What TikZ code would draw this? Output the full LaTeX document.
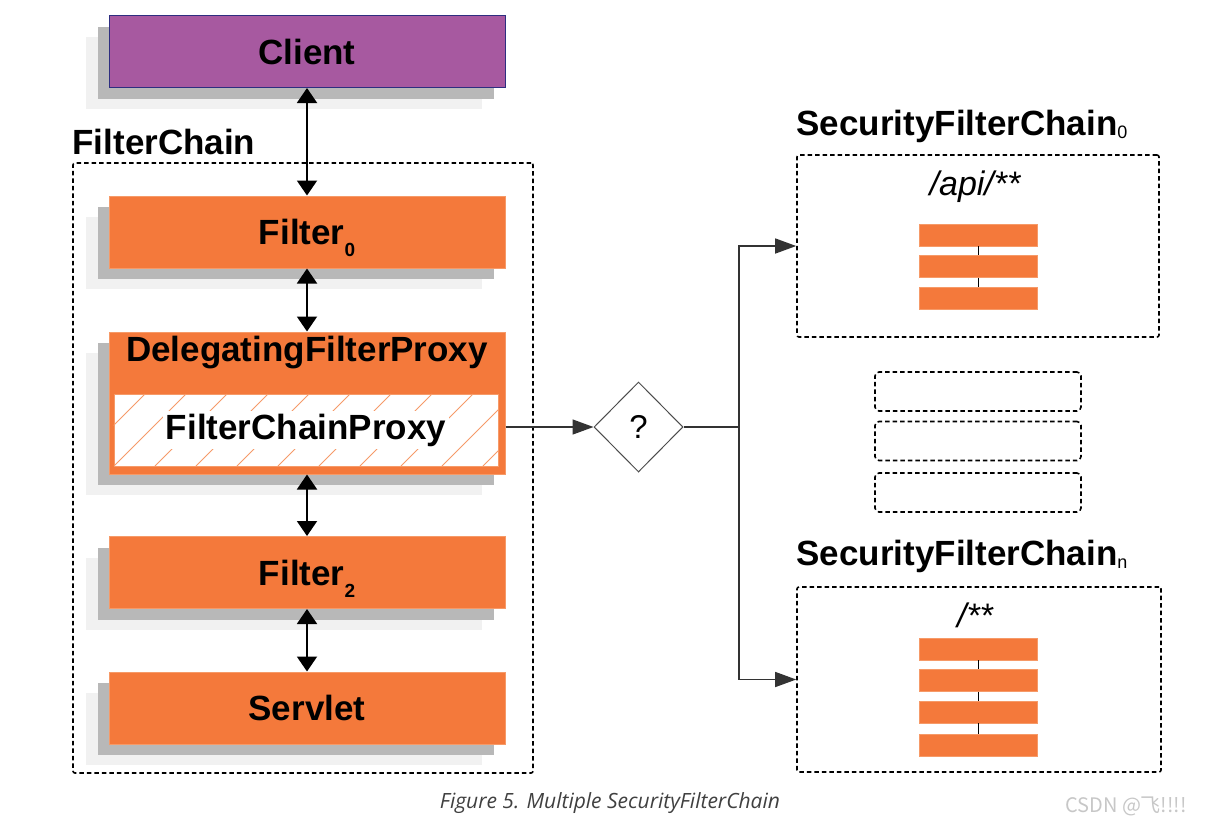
\documentclass[tikz,border=0pt]{standalone}
\usepackage{fontspec}
\setmainfont{Liberation Sans}
\newfontfamily\capfont{Open Sans}
\newfontfamily\cjk{Noto Sans CJK SC}
\usetikzlibrary{arrows.meta,shapes.geometric,shadows}

\definecolor{springorange}{HTML}{F4793B}
\definecolor{orangeedge}{HTML}{F69A68}
\definecolor{clientpurple}{HTML}{A759A0}
\definecolor{clientedge}{HTML}{2E2E80}
\definecolor{shadowdark}{HTML}{B8B8B8}
\definecolor{shadowlight}{HTML}{F1F1F1}

\newcommand{\lowidx}[1]{\raisebox{-12pt}{\fontsize{19}{20}\selectfont #1}}
\newcommand{\smallidx}[1]{\raisebox{-3pt}{\fontsize{18}{19}\selectfont\mdseries #1}}

\tikzset{
	bigfont/.style={font=\fontsize{35}{40}\selectfont\bfseries},
	box/.style={bigfont, minimum width=396pt, minimum height=72pt, inner sep=0pt, text height=25pt, text depth=0pt,
		general shadow={fill=shadowlight, shadow xshift=-23pt, shadow yshift=-21pt},
		general shadow={fill=shadowdark, shadow xshift=-11pt, shadow yshift=-11pt}},
	filterbox/.style={box, fill=springorange, draw=orangeedge, line width=1pt},
	clientbox/.style={box, fill=clientpurple, draw=clientedge, line width=1pt},
	dashbox/.style={draw, dash pattern=on 4.5pt off 3pt, line width=1.6pt, rounded corners=2pt, inner sep=0pt},
	chainbar/.style={fill=springorange, draw=orangeedge, line width=0.8pt, minimum width=118pt, minimum height=22pt, inner sep=0pt},
	updown/.style={{Triangle[width=20pt,length=15pt]}-{Triangle[width=20pt,length=15pt]}, line width=2pt},
	link/.style={line width=1.4pt, draw=black!80},
	linkarrow/.style={link, -{Triangle[width=15pt,length=21pt]}},
	hatchline/.style={draw=orangeedge, line width=1pt}
}

\begin{document}
\begin{tikzpicture}[x=1pt,y=-1pt]
		\useasboundingbox (0,0) rectangle (1209,828);
		
		\node[dashbox, minimum width=460pt, minimum height=610pt] (fc) at(303,468) {};
		\node[bigfont, anchor=base west] (fclabel) at(69,154) {FilterChain};
		
		\node[clientbox] (client) at(307,51.5) {Client};
		\node[filterbox] (f0) at(307,232) {Filter\lowidx{0}};
		\node[filterbox, minimum height=142pt] (dfp) at(307,403) {};
		\node[bigfont] (dfptext) at(307,353) {DelegatingFilterProxy};
		\node[draw=orangeedge, fill=white, line width=1pt, minimum width=384pt, minimum height=72pt] (fcp) at(306,430) {};
		\begin{scope}
			\clip (fcp.south west) rectangle (fcp.north east);
			\foreach \x in {32,73,...,520}
				\draw[hatchline] (\x,466) -- ++(72,-72);
		\end{scope}
		\node[bigfont, fill=white, inner sep=3pt] (fcptext) at(fcp.center) {FilterChainProxy};
		\node[filterbox] (f2) at(307,572.5) {Filter\lowidx{2}};
		\node[filterbox] (servlet) at(307,708) {Servlet};
		
		\draw[updown] (client) -- (f0);
		\draw[updown] (f0) -- (dfp);
		\draw[updown] (dfp) -- (f2);
		\draw[updown] (f2) -- (servlet);
		
		\node[diamond, draw=black!70, line width=1pt, minimum width=89pt, minimum height=90pt, inner sep=0pt, font=\fontsize{33}{36}\selectfont] (q) at(638.5,427) {?};
		\coordinate (fork) at(739,427);
		\draw[linkarrow] (dfp.east |- q.west) -- (q.west);
		\draw[link] (q.east) -- (fork);
		
		\node[bigfont, anchor=base west] (l0) at(793,135) {SecurityFilterChain\smallidx{0}};
		\node[dashbox, minimum width=362pt, minimum height=182pt] (c0) at(978,246) {};
		\node[font=\fontsize{34}{38}\selectfont\itshape, anchor=base] (p0) at(975,195) {/api/**};
		\node[chainbar] (b01) at(978,235) {};
		\node[chainbar] (b02) at(978,266.5) {};
		\node[chainbar] (b03) at(978,298) {};
		\draw (b01) -- (b02);
		\draw (b02) -- (b03);
		
		\node[dashbox, rounded corners=4pt, minimum width=206pt, minimum height=39pt] (g1) at(978,391.5) {};
		\node[dashbox, rounded corners=4pt, minimum width=206pt, minimum height=39pt] (g2) at(978,441) {};
		\node[dashbox, rounded corners=4pt, minimum width=206pt, minimum height=39pt] (g3) at(978,492.5) {};
		
		\node[bigfont, anchor=base west] (ln) at(793,565) {SecurityFilterChain\smallidx{n}};
		\node[dashbox, minimum width=364pt, minimum height=185pt] (cn) at(979,679.5) {};
		\node[font=\fontsize{34}{38}\selectfont\itshape, anchor=base] (pn) at(975,627) {/**};
		\node[chainbar] (bn1) at(978,649) {};
		\node[chainbar] (bn2) at(978,680.5) {};
		\node[chainbar] (bn3) at(978,712) {};
		\node[chainbar] (bn4) at(978,745) {};
		\draw (bn1) -- (bn2);
		\draw (bn2) -- (bn3);
		\draw (bn3) -- (bn4);
		
		\draw[linkarrow] (fork) |- (c0.west);
		\draw[linkarrow] (fork) |- (cn.west);
		
		\node[font=\capfont\itshape\fontsize{21}{24}\selectfont, text=black!75] (caption) at(610,803) {Figure 5. Multiple SecurityFilterChain};
		\node[font=\cjk\fontsize{20}{22}\selectfont, text=black!22, anchor=west, inner sep=0pt] (mark) at(1065,806) {CSDN @飞!!!!};
\end{tikzpicture}
\end{document}
